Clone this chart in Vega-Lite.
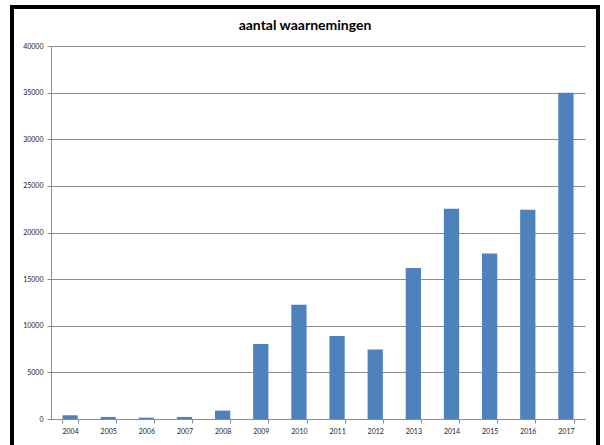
{
  "$schema": "https://vega.github.io/schema/vega-lite/v6.json",
  "autosize": {"type": "none"},
  "padding": {"left": 12, "top": 7, "right": 6, "bottom": -2},
  "width": 586,
  "height": 440,
  "background": "#ffffff",
  "title": {
    "text": "aantal waarnemingen",
    "font": "Lato",
    "fontSize": 14,
    "fontWeight": "bold",
    "color": "#000000",
    "anchor": "middle",
    "baseline": "alphabetic",
    "offset": -37
  },
  "data": {
    "values": [
      {"jaar": "2004", "aantal": 400},
      {"jaar": "2005", "aantal": 220},
      {"jaar": "2006", "aantal": 140},
      {"jaar": "2007", "aantal": 220},
      {"jaar": "2008", "aantal": 900},
      {"jaar": "2009", "aantal": 8050},
      {"jaar": "2010", "aantal": 12250},
      {"jaar": "2011", "aantal": 8900},
      {"jaar": "2012", "aantal": 7450},
      {"jaar": "2013", "aantal": 16200},
      {"jaar": "2014", "aantal": 22550},
      {"jaar": "2015", "aantal": 17750},
      {"jaar": "2016", "aantal": 22450},
      {"jaar": "2017", "aantal": 35000}
    ]
  },
  "mark": {"type": "bar", "color": "#4F81BD"},
  "encoding": {
    "x": {
      "field": "jaar",
      "type": "ordinal",
      "scale": {"range": [39, 573], "paddingInner": 0.6, "paddingOuter": 0.3},
      "axis": {
        "title": null,
        "offset": -28,
        "labelAngle": 0,
        "tickBand": "extent",
        "tickSize": 4,
        "tickColor": "#8c8c8c",
        "domainColor": "#8c8c8c",
        "labelFont": "Lato",
        "labelFontSize": 7,
        "labelColor": "#222222",
        "labelPadding": 4,
        "grid": false
      }
    },
    "y": {
      "field": "aantal",
      "type": "quantitative",
      "scale": {"domain": [0, 40000], "range": [412, 39], "nice": false, "zero": true},
      "axis": {
        "title": null,
        "offset": -39,
        "values": [0, 5000, 10000, 15000, 20000, 25000, 30000, 35000, 40000],
        "format": "d",
        "tickSize": 4,
        "tickColor": "#8c8c8c",
        "domainColor": "#8c8c8c",
        "gridColor": "#8c8c8c",
        "labelFont": "Lato",
        "labelFontSize": 7,
        "labelColor": "#222222",
        "labelPadding": 4
      }
    }
  },
  "config": {
    "view": {"stroke": "#000000", "strokeWidth": 4}
  }
}
